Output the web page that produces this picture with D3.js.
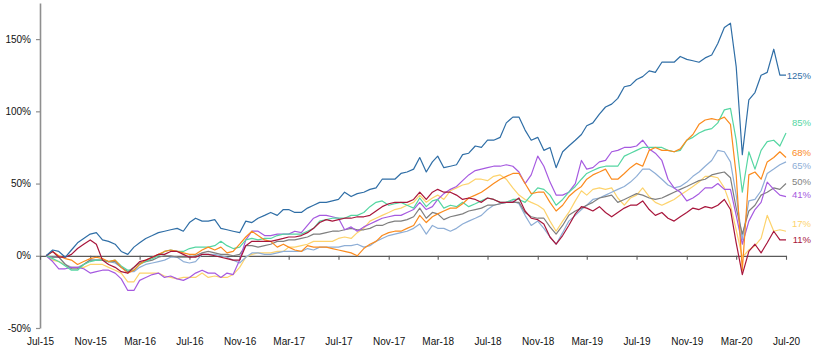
<!DOCTYPE html>
<html><head><meta charset="utf-8">
<script src="https://cdn.jsdelivr.net/npm/d3@7"></script>
<style>
body{margin:0;background:#fff}
svg{display:block}
text{font-family:'Liberation Sans',Arial,sans-serif}
</style>
</head><body>
<svg id="chart" width="826" height="357"></svg>
<script>
// ---- data (percent change since Jul-15), semi-monthly observations ----
const tickLabels = ["Jul-15","Nov-15","Mar-16","Jul-16","Nov-16","Mar-17","Jul-17","Nov-17","Mar-18","Jul-18","Nov-18","Mar-19","Jul-19","Nov-19","Mar-20","Jul-20"];
const yTickValues = [-50, 0, 50, 100, 150];

const blue = [0,4,3,-1,4,9,12,15,16,11, 10,8,3,1,6,9,12,14,16,17, 18,19,17,23,26,24,24,25,19,18, 17,16,24,23,26,28,30,28,32,32, 30,30,33,35,37,37,38,39,44,41, 43,44,46,47,53,53,53,57,58,60, 68,58,65,69,61,62,63,70,71,76, 75,80,80,82,92,96,96,87,80,82, 73,75,61,72,76,80,84,90,92,98, 103,105,109,117,118,122,124,128,127,134, 134,134,138,136,135,134,137,139,147,158, 161,131,70,108,113,125,127,143,125,125];
const green = [0,-2,-4,-7,-10,-10,-6,-4,-3,-3, -4,-3,-7,-10,-10,-6,-4,-2,0,3, 4,3,3,5,6,6,6,7,10,7, 5,6,11,12,11,12,12,14,15,15, 15,15,17,19,24,25,26,26,26,28, 28,30,34,37,38,35,36,37,35,33, 40,34,38,39,33,35,34,37,34,36, 38,40,39,37,37,39,39,37,42,47, 46,42,35,39,44,48,53,57,59,61, 62,62,62,69,71,73,75,75,75,75, 73,72,73,80,82,85,87,88,92,101, 102,80,44,72,60,73,79,80,76,85];
const orange = [0,3,0,-2,-3,-6,-4,-2,-1,-2, -4,-3,-8,-12,-10,-6,-3,-1,1,3, 4,3,2,1,1,4,6,4,6,2, 3,8,13,17,14,11,10,6,8,6, 4,3,7,6,6,6,5,4,3,2, 0,5,8,10,14,16,17,17,19,21, 28,23,27,29,31,33,33,36,40,42, 44,47,50,53,55,57,57,50,43,44, 44,37,31,35,41,45,48,53,56,58, 60,53,53,57,61,64,62,73,75,73, 73,72,74,80,84,91,94,95,94,96, 91,56,-10,56,58,53,65,68,72,68];
const lightBlue = [0,-1,-1,-6,-8,-8,-6,-3,-3,-3, -4,-5,-8,-11,-11,-8,-6,-5,-4,-3, -1,-1,-4,-5,-4,1,1,1,0,-1, -3,-5,-1,2,2,1,1,2,3,3, 3,3,5,4,6,6,6,6,7,7, 8,6,7,10,12,14,15,16,17,19, 22,15,21,19,19,17,19,22,24,26, 28,32,35,36,37,38,36,28,21,24, 19,13,8,16,24,28,32,35,39,40, 42,44,46,48,51,55,60,60,57,53, 49,47,48,51,55,58,62,66,73,72, 65,42,11,38,39,45,57,60,63,65];
const gray = [0,-1,-1,-6,-9,-9,-6,-3,-3,-3, -4,-4,-8,-11,-8,-5,-4,-3,-1,0, 0,-1,-1,-1,0,2,3,2,1,1, 0,1,7,7,6,7,8,10,10,11, 11,12,13,15,15,16,17,17,18,19, 18,18,19,21,21,23,24,24,25,27, 33,26,30,29,25,27,28,29,31,32, 33,35,35,36,37,37,37,30,27,26, 26,20,15,21,28,31,33,35,37,40, 41,42,37,39,41,43,42,40,39,40, 42,44,46,48,50,52,53,56,57,58, 54,33,15,31,35,42,44,47,46,50];
const purple = [0,-4,-9,-9,-8,-8,-9,-12,-11,-10, -10,-12,-16,-24,-24,-17,-15,-13,-12,-15, -14,-16,-17,-15,-12,-10,-12,-12,-15,-12, -13,-3,11,17,17,14,14,15,15,15, 17,16,21,26,28,28,27,26,18,20, 17,20,22,24,26,27,28,28,30,32, 37,32,34,39,43,46,48,52,56,59, 60,61,62,62,63,62,58,50,56,69, 62,51,42,42,44,50,66,60,61,65, 66,72,73,75,75,76,80,74,71,66, 53,47,44,38,40,43,47,47,50,46, 46,28,8,24,32,37,51,46,42,41];
const yellow = [0,-3,-4,-6,-8,-8,-8,-6,-6,-6, -8,-10,-12,-18,-18,-12,-12,-12,-12,-14, -15,-16,-15,-15,-15,-12,-15,-14,-15,-15, -13,-8,-1,1,2,2,2,3,3,6, 6,7,8,10,10,10,10,12,13,12, 16,19,24,26,28,30,32,33,35,37, 42,37,40,42,39,45,47,49,50,53, 53,52,55,56,53,47,42,39,37,35, 32,24,17,24,30,38,45,42,46,47, 46,47,40,35,40,42,47,41,37,35, 37,39,42,45,48,51,55,55,54,47, 35,18,-1,4,7,12,28,17,18,17];
const red = [0,3,-1,-1,1,5,8,11,8,-3, -6,-8,-11,-12,-8,-4,-3,-1,1,1, 3,3,1,-1,-1,1,1,0,-1,-2, -3,-3,7,10,10,10,10,11,12,13, 13,14,16,19,23,25,24,25,26,26, 27,27,28,31,34,36,37,37,37,39, 44,39,44,46,44,44,42,39,40,39, 37,40,39,37,37,37,40,31,26,25, 22,13,8,14,21,29,34,33,31,34, 30,27,30,33,35,35,38,32,28,30, 26,24,27,30,33,32,34,33,35,39, 32,9,-13,3,8,2,9,17,11,11];

// ---- styling / layout ----
const series = [
  {values: yellow,    color: "#fdd36c", labelDy: -8},
  {values: lightBlue, color: "#8eaed6", labelDy: 4},
  {values: gray,      color: "#7f7f7f", labelDy: -2},
  {values: purple,    color: "#a65ae0", labelDy: -2},
  {values: green,     color: "#55d6a2", labelDy: -10},
  {values: orange,    color: "#fb8b1e", labelDy: -5},
  {values: red,       color: "#a8163c", labelDy: 0},
  {values: blue,      color: "#2f6ea6", labelDy: 0}
];

const svg = d3.select("#chart");
const start = new Date(2015, 6, 1);
const dates = blue.map((_, i) => {
  const k = i + 1;
  return k % 2 === 0 ? new Date(2015, 6 + k / 2, 1) : new Date(2015, 6 + (k - 1) / 2, 16);
});

const x = d3.scaleTime().domain([start, new Date(2020, 6, 1)]).range([40, 786]);
const y = d3.scaleLinear().domain([-50, 175]).range([328, 3]);

// y axis
const yAxis = svg.append("g").attr("transform", "translate(40,0)")
  .call(d3.axisLeft(y).tickValues(yTickValues).tickFormat(d => d + "%").tickSize(4).tickSizeOuter(0).tickPadding(5));
yAxis.select(".domain").attr("stroke", "#8f8f8f").attr("stroke-width", 1.6);
yAxis.selectAll(".tick line").attr("stroke", "#8f8f8f").attr("stroke-width", 1.2);
yAxis.selectAll(".tick text").attr("font-size", 10).attr("fill", "#111");

// x axis along the zero line
const parseTick = d3.timeParse("%b-%y");
const tickDates = tickLabels.map(parseTick);
const xAxis = svg.append("g").attr("transform", `translate(0,${y(0)})`)
  .call(d3.axisBottom(x).tickValues(tickDates).tickFormat((d, i) => tickLabels[i]).tickSize(4).tickSizeOuter(0).tickPadding(78));
xAxis.select(".domain").attr("stroke", "#5a5a5a").attr("stroke-width", 1.3);
xAxis.selectAll(".tick line").attr("stroke", "#5a5a5a").attr("stroke-width", 1.1);
xAxis.selectAll(".tick text").attr("font-size", 10).attr("fill", "#111");

// lines
const line = d3.line().x((d, i) => x(dates[i])).y(d => y(d));
svg.append("g").selectAll("path").data(series).join("path")
  .attr("d", s => line(s.values))
  .attr("fill", "none")
  .attr("stroke", s => s.color)
  .attr("stroke-width", 1.2)
  .attr("stroke-linejoin", "round");

// end labels
svg.append("g").selectAll("text").data(series).join("text")
  .attr("x", 811)
  .attr("y", s => y(s.values[s.values.length - 1]) + s.labelDy)
  .attr("dy", "0.35em")
  .attr("text-anchor", "end")
  .attr("font-size", 9.5)
  .attr("fill", s => s.color)
  .text(s => s.values[s.values.length - 1] + "%");
</script>
</body></html>
